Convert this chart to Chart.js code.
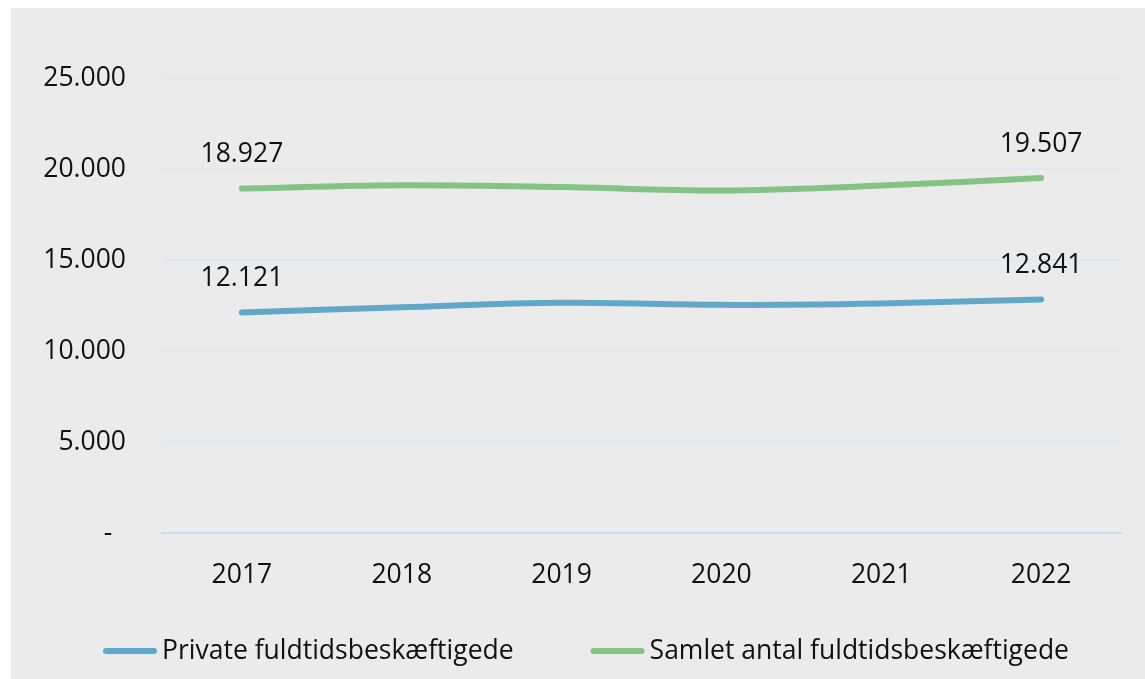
<!DOCTYPE html>
<html>
<head>
<meta charset="utf-8">
<script src="https://cdn.jsdelivr.net/npm/chart.js@4/dist/chart.umd.min.js"></script>
<style>
  html, body { margin: 0; padding: 0; background: #ffffff; }
  #wrap { position: absolute; left: 11px; top: 8px; width: 1134px; height: 671px; background: #ebebeb; }
  canvas { display: block; }
</style>
</head>
<body>
<div id="wrap"><canvas id="c" width="1134" height="671"></canvas></div>
<script>
const categories = ['2017', '2018', '2019', '2020', '2021', '2022'];
const privateValues = [12121, 12410, 12650, 12540, 12620, 12841];
const totalValues = [18927, 19110, 19010, 18820, 19090, 19507];
const seriesNames = ['Private fuldtidsbeskæftigede', 'Samlet antal fuldtidsbeskæftigede'];
const yTicks = [0, 5000, 10000, 15000, 20000, 25000];

const FONT = "'Open Sans', 'Noto Sans', sans-serif";
const FSIZE = 26.5;
const BLUE = '#63a7c8';
const GREEN = '#83c385';
const TEXT = '#111111';

function fmt(v) {
  if (v === 0) return '-  ';
  return String(Math.round(v)).replace(/\B(?=(\d{3})+(?!\d))/g, '.');
}

const endLabels = {
  id: 'endLabels',
  afterDatasetsDraw(chart) {
    const ctx = chart.ctx;
    ctx.save();
    ctx.font = FSIZE + 'px ' + FONT;
    ctx.fillStyle = TEXT;
    ctx.textAlign = 'center';
    ctx.textBaseline = 'middle';
    chart.data.datasets.forEach((ds, di) => {
      const meta = chart.getDatasetMeta(di);
      [0, ds.data.length - 1].forEach(i => {
        const p = meta.data[i];
        ctx.fillText(fmt(ds.data[i]), p.x, p.y - 34);
      });
    });
    ctx.restore();
  }
};

const lineLegend = {
  id: 'lineLegend',
  afterDraw(chart) {
    const ctx = chart.ctx;
    ctx.save();
    ctx.font = FSIZE + 'px ' + FONT;
    ctx.textBaseline = 'middle';
    ctx.textAlign = 'left';
    const lineW = 54, gap = 5, itemGap = 77, cy = 643;
    const items = chart.data.datasets.map(ds => ({ text: ds.label, color: ds.borderColor, w: ctx.measureText(ds.label).width }));
    const total = items.reduce((s, it) => s + lineW + gap + it.w, 0) + itemGap * (items.length - 1);
    let x = chart.width / 2 + 8 - total / 2;
    items.forEach(it => {
      ctx.strokeStyle = it.color;
      ctx.lineWidth = 6;
      ctx.lineCap = 'round';
      ctx.beginPath();
      ctx.moveTo(x + 3, cy);
      ctx.lineTo(x + lineW - 3, cy);
      ctx.stroke();
      ctx.fillStyle = TEXT;
      ctx.fillText(it.text, x + lineW + gap, cy);
      x += lineW + gap + it.w + itemGap;
    });
    ctx.restore();
  }
};

Chart.defaults.font.family = FONT;
Chart.defaults.font.size = FSIZE;
Chart.defaults.color = TEXT;

new Chart(document.getElementById('c'), {
  type: 'line',
  data: {
    labels: categories,
    datasets: [
      { label: seriesNames[0], data: privateValues, borderColor: BLUE, backgroundColor: BLUE,
        borderWidth: 6, borderCapStyle: 'round', pointRadius: 0, tension: 0.35, fill: false },
      { label: seriesNames[1], data: totalValues, borderColor: GREEN, backgroundColor: GREEN,
        borderWidth: 6, borderCapStyle: 'round', pointRadius: 0, tension: 0.35, fill: false }
    ]
  },
  options: {
    responsive: false,
    animation: false,
    layout: { padding: { left: 0, right: 24, top: 70, bottom: 62 } },
    plugins: {
      tooltip: { enabled: false },
      legend: { display: false }
    },
    scales: {
      x: {
        offset: true,
        grid: { display: false, drawTicks: false },
        border: { display: true, color: '#c8dde9', width: 2 },
        ticks: { padding: 26, font: { size: FSIZE } }
      },
      y: {
        min: 0, max: 25000,
        afterBuildTicks(scale) { scale.ticks = yTicks.map(v => ({ value: v })); },
        afterFit(scale) { scale.width = 151; },
        grid: { color: '#dde8ef', lineWidth: 1.5, drawTicks: false },
        border: { display: false },
        ticks: { padding: 36, font: { size: FSIZE }, callback: v => fmt(v) }
      }
    }
  },
  plugins: [endLabels, lineLegend]
});
</script>
</body>
</html>
